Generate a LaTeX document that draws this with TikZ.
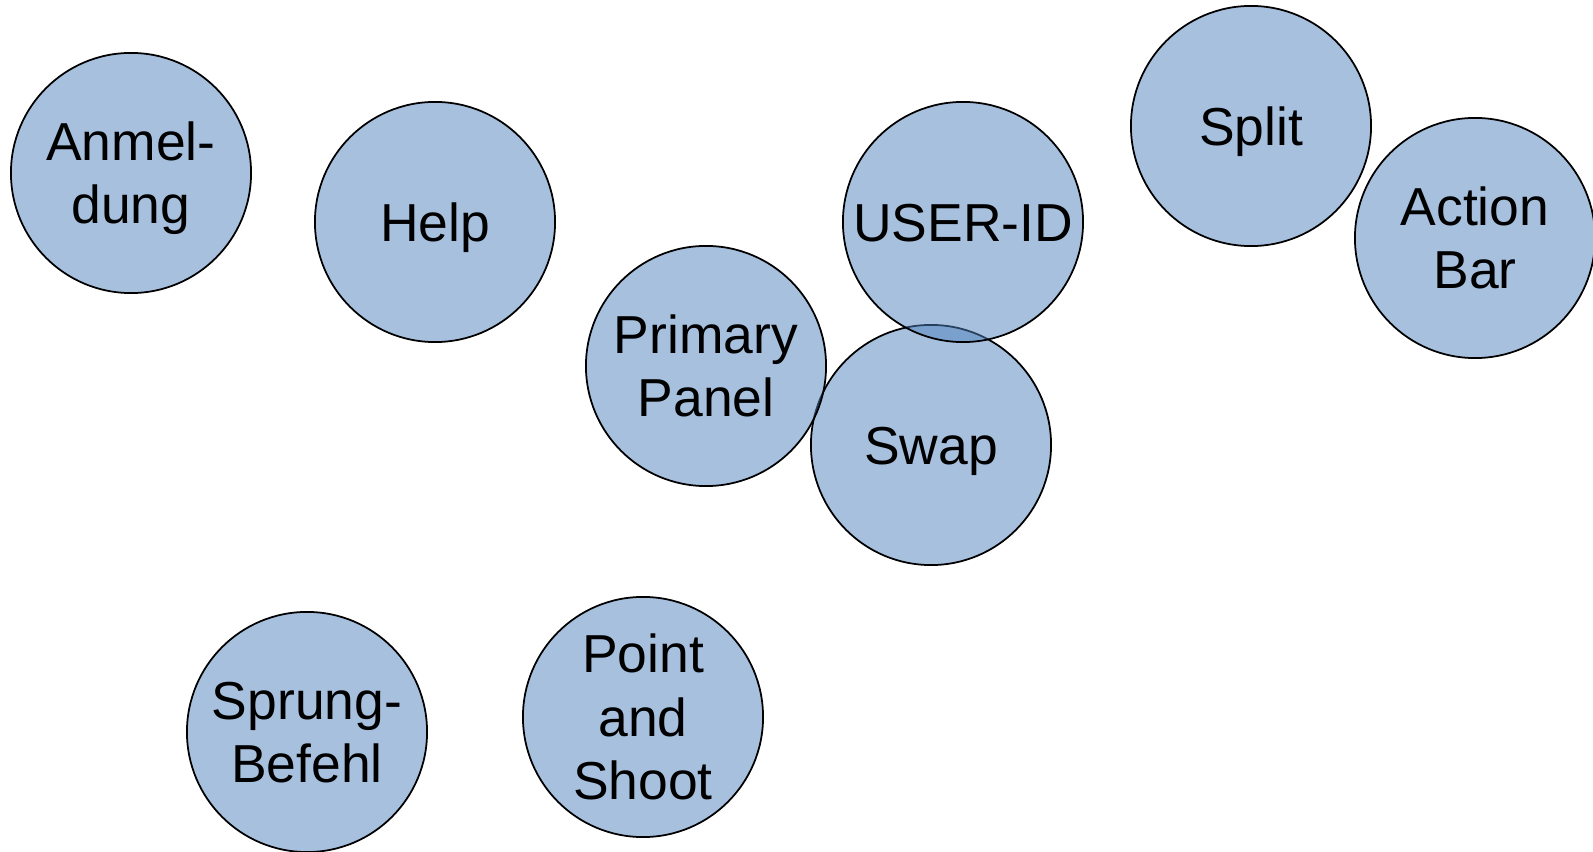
\documentclass[tikz,border=0pt]{standalone}
\usepackage{fontspec}
\setmainfont{Liberation Sans}
\usetikzlibrary{positioning}

\definecolor{bubblefill}{HTML}{4F81BD}

\begin{document}
\begin{tikzpicture}[
  x={(0.01cm,0cm)},
  y={(0cm,-0.01cm)},
  bubble/.style={circle, draw=black, line width=0.5pt,
    fill=bubblefill, fill opacity=0.5,
    minimum size=2.4cm, inner sep=0pt},
  bubbletext/.style={align=center, text opacity=1, fill opacity=1,
    yshift=-0.063cm, inner sep=0pt,
    font=\fontsize{15.2}{18.1}\selectfont}
]

% ---------- canvas ----------
\useasboundingbox (0,0) rectangle (1593,852);

% ---------- bubbles ----------
\node[bubble, label={[bubbletext]center:{\strut Anmel-\\dung\strut}}]    (anmeldung) at (131,173) {};
\node[bubble, label={[bubbletext]center:{\strut Help}}]                  (help)      at (435,222) {};
\node[bubble, label={[bubbletext]center:{\strut Swap}}]                  (swap)      at (931,445) {};
\node[bubble, label={[bubbletext]center:{\strut Primary\\Panel\strut}}]  (primary)   at (706,366) {};
\node[bubble, label={[bubbletext]center:{\strut USER-ID}}]               (userid)    at (963,222) {};
\node[bubble, label={[bubbletext]center:{\strut Split}}]                 (split)     at (1251,126) {};
\node[bubble, label={[bubbletext]center:{\strut Action\\Bar\strut}}]     (actionbar) at (1475,238) {};
\node[bubble, label={[bubbletext]center:{\strut Sprung-\\Befehl\strut}}] (sprung)    at (307,732) {};
\node[bubble, label={[bubbletext]center:{\strut Point\\and\\Shoot\strut}}] (point)   at (643,717) {};

\end{tikzpicture}
\end{document}
